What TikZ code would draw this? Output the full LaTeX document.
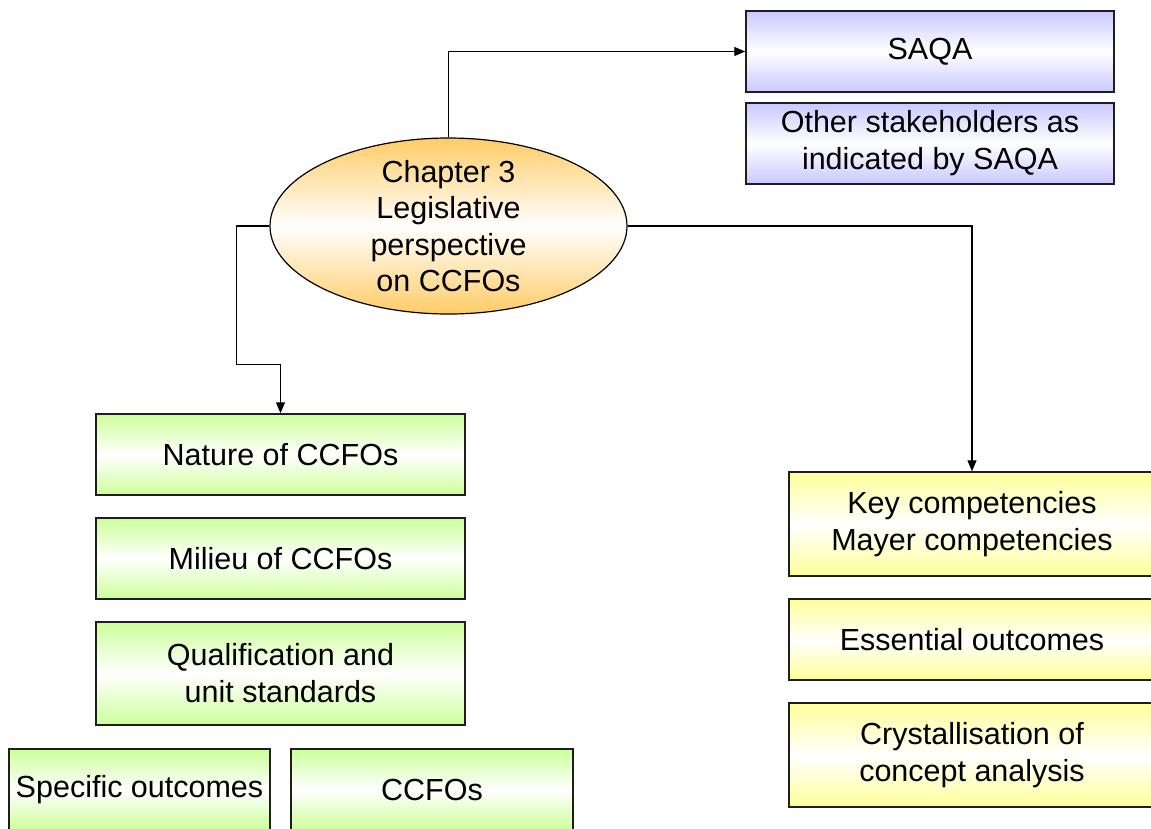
\documentclass[tikz,border=0pt]{standalone}
\usepackage{fontspec}
\setmainfont{Liberation Sans}
\usetikzlibrary{shapes.geometric,arrows.meta,calc}
\definecolor{cblue}{RGB}{200,200,255}
\definecolor{cgreen}{RGB}{204,255,153}
\definecolor{cyellow}{RGB}{255,255,153}
\definecolor{corange}{RGB}{255,204,102}
\definecolor{edge}{RGB}{30,30,30}
\tikzset{
  box/.style={rectangle, draw=edge, line width=1.5pt, inner sep=0pt, align=center,
    font=\fontsize{30.5pt}{37pt}\selectfont},
  bluebox/.style={box, top color=cblue, bottom color=cblue, middle color=white},
  greenbox/.style={box, top color=cgreen, bottom color=cgreen, middle color=white},
  yellowbox/.style={box, top color=cyellow, bottom color=cyellow, middle color=white},
  oval/.style={ellipse, draw=black, line width=1.2pt, inner sep=0pt,
    top color=corange, bottom color=corange, middle color=white},
  arr/.style={draw=black, line width=1.2pt, -{Triangle[length=11pt,width=9pt]}},
}
\begin{document}
\begin{tikzpicture}[x=1pt,y=-1pt]
\clip (0,0) rectangle (1151,828);
\fill[white] (0,0) rectangle (1151,828);
% top right
\node[bluebox, minimum width=368pt, minimum height=81pt] (saqa) at (930,51.5) {SAQA};
\node[bluebox, minimum width=368pt, minimum height=81pt] (other) at (930,143.5) {Other stakeholders as\\indicated by SAQA};
% ellipse
\node[oval, minimum width=357pt, minimum height=176pt,
  label={[align=center, font=\fontsize{30.5pt}{36.5pt}\selectfont]center:Chapter 3\\Legislative\\perspective\\on CCFOs}] (ch) at (448.5,226) {};
% left column
\node[greenbox, minimum width=369pt, minimum height=81pt] (nature) at (280.5,454.5) {Nature of CCFOs};
\node[greenbox, minimum width=369pt, minimum height=81pt] (milieu) at (280.5,558.5) {Milieu of CCFOs};
\node[greenbox, minimum width=369pt, minimum height=103pt] (qual) at (280.5,673.5) {Qualification and\\unit standards};
\node[greenbox, minimum width=261pt, minimum height=81pt] (spec) at (139.5,789.5) {Specific outcomes};
\node[greenbox, minimum width=282pt, minimum height=81pt] (ccfo) at (432,789.5) {CCFOs};
% right column
\node[yellowbox, minimum width=366pt, minimum height=104pt] (key) at (972,524) {Key competencies\\Mayer competencies};
\node[yellowbox, minimum width=366pt, minimum height=81pt] (ess) at (972,639.5) {Essential outcomes};
\node[yellowbox, minimum width=366pt, minimum height=104pt] (cry) at (972,755) {Crystallisation of\\concept analysis};
% connectors
\draw[arr] (ch.north) |- (saqa.west);
\draw[arr] (ch.west) -- ++(-33,0) |- ($(nature.north)+(0,-49)$) -- (nature.north);
\draw[arr] (ch.east) -| (key.north);
\end{tikzpicture}
\end{document}
